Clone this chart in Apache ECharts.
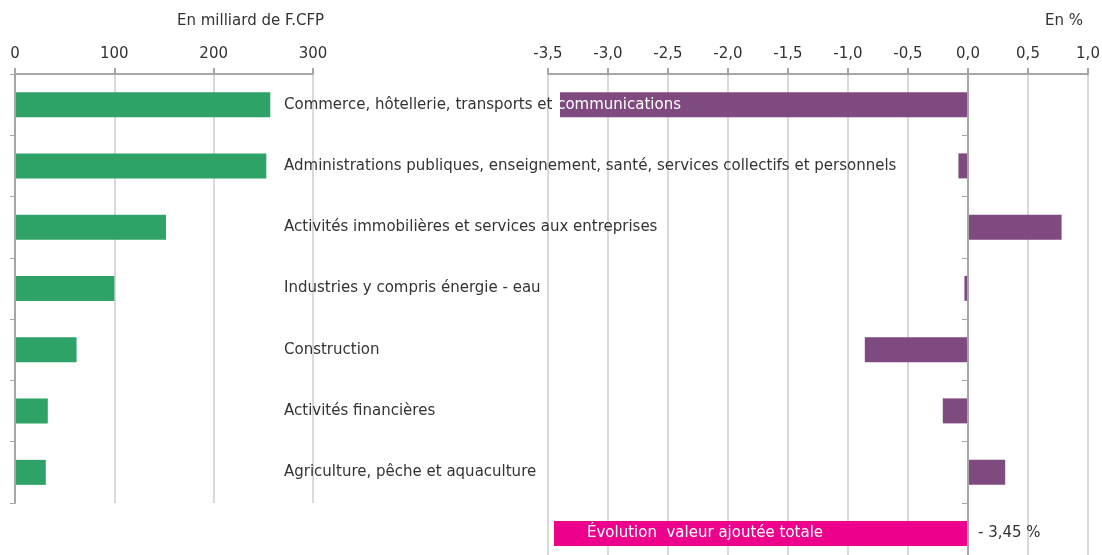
<!DOCTYPE html>
<html>
<head>
<meta charset="UTF-8">
<title>Valeur ajoutée par branche</title>
<script src="https://cdn.jsdelivr.net/npm/echarts@6/dist/echarts.min.js"></script>
<style>
  html, body { margin: 0; padding: 0; background: #fff; }
  #main { width: 1102px; height: 555px; }
</style>
</head>
<body>
<div id="main"></div>
<script type="text/javascript">
// branches (top to bottom)
var categories = [
    'Commerce, hôtellerie, transports et communications',
    'Administrations publiques, enseignement, santé, services collectifs et personnels',
    'Activités immobilières et services aux entreprises',
    'Industries y compris énergie - eau',
    'Construction',
    'Activités financières',
    'Agriculture, pêche et aquaculture'
];
// valeur ajoutée, en milliard de F.CFP
var valeurs = [257, 253, 152, 100, 62, 33, 31];
// évolution, en %
var evolutions = [-3.4, -0.08, 0.78, -0.03, -0.86, -0.21, 0.31];
var totalLabel = 'Évolution  valeur ajoutée totale';
var totalEvolution = -3.45;
var ticksGauche = [0, 300, 100];
var ticksDroite = [-3.5, 1.0, 0.5];
var motBlanc = 'communications';

var font = 'DejaVu Sans';
var fs = 15;
var gris = '#a6a6a6';
var grille = '#d9d9d9';
var texte = '#333333';

function virgule(v) {
    return v.toFixed(1).replace('.', ',');
}

var myChart = echarts.init(document.getElementById('main'));

var dataDroite = [];
for (var i = 0; i < evolutions.length; i++) {
    dataDroite.push({ value: evolutions[i], label: { show: false } });
}
dataDroite.push({
    value: totalEvolution,
    itemStyle: { color: '#ec008c' },
    label: {
        show: true,
        position: 'insideLeft',
        distance: 33,
        color: '#ffffff',
        fontFamily: font,
        fontSize: fs,
        formatter: '{b}'
    }
});

var option = {
    backgroundColor: '#FFFFFF',
    animation: false,
    textStyle: { fontFamily: font },
    title: [
        { text: 'En milliard de F.CFP', left: 172, top: 9,
          textStyle: { fontSize: fs, fontWeight: 'normal', color: texte, fontFamily: font } },
        { text: 'En %', right: 14, top: 9,
          textStyle: { fontSize: fs, fontWeight: 'normal', color: texte, fontFamily: font } }
    ],
    grid: [
        { left: 15, top: 74, width: 298, height: 429, outerBoundsMode: 'none' },
        // 8e bande (total) coupée par le bas de l'image
        { left: 548, top: 74, width: 540, height: 490, outerBoundsMode: 'none' }
    ],
    xAxis: [
        {
            type: 'value', gridIndex: 0, position: 'top',
            min: ticksGauche[0], max: ticksGauche[1], interval: ticksGauche[2],
            axisLine: { show: true, lineStyle: { color: gris, width: 2 } },
            axisTick: { show: true, length: 6, lineStyle: { color: gris, width: 2 } },
            axisLabel: { color: texte, fontSize: fs, margin: 12 },
            splitLine: { show: true, lineStyle: { color: grille, width: 2 } }
        },
        {
            type: 'value', gridIndex: 1, position: 'top',
            min: ticksDroite[0], max: ticksDroite[1], interval: ticksDroite[2],
            axisLine: { show: true, onZero: false, lineStyle: { color: gris, width: 2 } },
            axisTick: { show: true, length: 6, lineStyle: { color: gris, width: 2 } },
            axisLabel: { color: texte, fontSize: fs, margin: 12, formatter: virgule },
            splitLine: { show: true, lineStyle: { color: grille, width: 2 } }
        }
    ],
    yAxis: [
        {
            type: 'category', gridIndex: 0, inverse: true, z: 10,
            data: categories,
            axisLine: { show: true, lineStyle: { color: gris, width: 2 } },
            axisTick: { show: true, length: 5, lineStyle: { color: gris, width: 1 } },
            axisLabel: {
                inside: true, margin: 269, color: texte, fontSize: fs, interval: 0,
                formatter: function (v) {
                    return v.replace(motBlanc, '{w|' + motBlanc + '}');
                },
                rich: { w: { color: '#ffffff', fontSize: fs, fontFamily: font } }
            }
        },
        {
            type: 'category', gridIndex: 1, inverse: true, z: 10,
            data: categories.concat([totalLabel]),
            axisLine: { show: true, onZero: true, lineStyle: { color: gris, width: 2 } },
            axisTick: { show: true, length: 6, interval: 0, lineStyle: { color: gris, width: 1 } },
            axisLabel: {
                inside: true, margin: 430, color: texte, fontSize: fs, interval: 0,
                hideOverlap: false,
                formatter: function (v, idx) {
                    return idx === categories.length
                        ? '- ' + String(Math.abs(totalEvolution)).replace('.', ',') + ' %' : '';
                }
            }
        }
    ],
    series: [
        {
            name: 'Valeur ajoutée', type: 'bar',
            xAxisIndex: 0, yAxisIndex: 0,
            barWidth: 25,
            itemStyle: { color: '#2ea267' },
            data: valeurs
        },
        {
            name: 'Évolution', type: 'bar',
            xAxisIndex: 1, yAxisIndex: 1,
            barWidth: 25,
            itemStyle: { color: '#7f4a80' },
            data: dataDroite
        }
    ]
};

myChart.setOption(option);
</script>
</body>
</html>
